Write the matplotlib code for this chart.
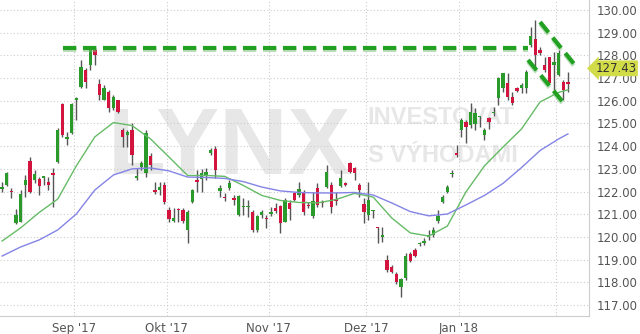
import matplotlib
matplotlib.use('Agg')
import matplotlib.pyplot as plt
import matplotlib.patheffects as pe
import numpy as np

# OHLC daily candles
opens = [122.10, 122.29, 122.02, 120.62, 120.66, 122.29, 123.35, 122.51, 122.56, 122.62,
         122.42, 122.80, 123.30, 125.86, 124.33, 124.58, 126.05, 126.61, 127.36, 127.58,
         128.24, 126.74, 126.04, 126.39, 125.68, 126.04, 124.71, 124.49, 124.71, 122.62,
         123.08, 122.82, 123.57, 122.05, 122.07, 122.29, 121.19, 120.70, 121.22, 121.19,
         120.31, 121.54, 122.51, 122.56, 122.73, 123.70, 123.88, 122.03, 121.74, 122.16,
         121.70, 120.97, 121.30, 121.30, 121.10, 120.31, 120.97, 120.81, 121.01, 121.28,
         121.37, 120.66, 121.50, 121.94, 121.85, 121.94, 121.43, 120.93, 122.16, 121.52,
         122.20, 122.29, 121.65, 122.25, 122.35, 123.26, 123.04, 122.29, 121.45, 120.97,
         121.13, 120.42, 120.02, 118.99, 118.68, 118.37, 117.80, 118.19, 119.25, 119.43,
         119.67, 119.74, 120.00, 120.09, 120.70, 121.54, 121.98, 122.76, 123.68, 124.71,
         125.07, 124.93, 124.98, 125.27, 124.49, 125.24, 125.44, 126.12, 126.56, 126.78,
         126.17, 126.56, 126.56, 126.56, 128.46, 128.72, 128.24, 127.58, 127.93, 127.58,
         127.14, 126.83, 126.83]
highs = [122.42, 122.86, 122.16, 121.23, 122.07, 122.73, 123.52, 122.95, 122.64, 122.70,
         122.64, 123.04, 124.80, 125.90, 124.63, 125.90, 126.17, 127.80, 127.45, 128.28,
         128.32, 126.96, 126.70, 126.48, 126.26, 126.04, 124.80, 124.71, 125.02, 123.04,
         123.35, 124.71, 123.70, 122.42, 122.42, 122.42, 121.32, 121.28, 121.28, 121.28,
         121.19, 122.11, 122.95, 123.00, 123.04, 123.92, 124.01, 122.29, 121.94, 122.51,
         121.85, 121.85, 121.72, 121.63, 121.19, 120.97, 121.19, 120.97, 121.32, 121.50,
         121.41, 121.72, 121.63, 121.98, 122.42, 122.07, 121.54, 121.98, 122.38, 121.63,
         123.17, 122.42, 121.98, 122.95, 122.42, 123.30, 123.08, 122.38, 121.72, 122.42,
         121.19, 120.44, 120.44, 119.21, 118.77, 118.46, 118.19, 119.30, 119.34, 119.52,
         119.78, 119.96, 120.31, 120.44, 121.19, 121.85, 122.29, 122.95, 124.05, 125.24,
         125.15, 125.90, 125.68, 125.33, 124.80, 125.29, 125.73, 127.05, 127.22, 127.22,
         126.39, 126.61, 126.78, 127.36, 129.25, 129.56, 128.37, 127.93, 127.93, 128.15,
         128.24, 126.92, 127.27]
lows = [121.98, 122.25, 121.72, 120.58, 120.64, 121.76, 121.94, 122.38, 121.85, 122.29,
        122.07, 121.32, 123.26, 124.41, 124.05, 124.54, 125.15, 126.56, 126.56, 127.36,
        127.58, 126.04, 126.04, 125.51, 125.59, 125.46, 123.97, 123.97, 123.17, 122.51,
        122.95, 122.64, 122.95, 121.89, 121.85, 121.45, 120.66, 120.66, 120.66, 120.62,
        119.74, 121.50, 121.98, 121.98, 122.51, 123.61, 122.60, 121.76, 121.59, 122.07,
        121.41, 120.93, 120.97, 120.88, 120.22, 120.22, 120.84, 120.40, 120.93, 121.06,
        120.18, 120.66, 120.75, 121.59, 121.76, 120.97, 121.28, 120.84, 121.32, 121.32,
        122.16, 121.06, 121.41, 122.20, 122.25, 122.82, 122.51, 121.76, 120.62, 120.75,
        120.84, 119.74, 119.78, 118.46, 118.41, 117.93, 117.36, 118.10, 118.90, 119.12,
        119.60, 119.65, 119.87, 120.00, 120.62, 121.50, 121.94, 122.64, 123.52, 124.41,
        124.14, 124.80, 124.71, 124.85, 124.27, 124.76, 125.33, 125.81, 126.39, 126.04,
        125.81, 126.39, 126.35, 126.35, 128.37, 127.36, 128.02, 127.27, 126.74, 126.48,
        127.10, 126.04, 126.39]
closes = [122.22, 122.82, 121.96, 120.97, 121.89, 122.51, 121.98, 122.78, 122.25, 122.66,
          122.29, 122.74, 124.71, 124.49, 124.40, 125.86, 126.10, 127.49, 126.83, 128.24,
          128.02, 126.26, 126.56, 125.68, 126.17, 125.51, 124.41, 124.63, 123.61, 122.66,
          123.26, 124.58, 123.17, 122.00, 122.20, 121.54, 120.79, 120.84, 121.17, 120.70,
          121.10, 122.07, 122.42, 122.82, 122.86, 123.83, 122.95, 122.16, 121.70, 122.38,
          121.65, 121.81, 121.34, 121.34, 120.31, 120.93, 121.10, 120.77, 121.10, 121.15,
          120.62, 121.63, 121.23, 121.63, 122.11, 121.10, 121.37, 121.59, 121.41, 121.48,
          122.86, 121.32, 121.60, 122.60, 122.31, 122.86, 122.82, 122.07, 121.10, 121.63,
          121.17, 120.38, 120.06, 118.55, 118.46, 118.02, 118.15, 119.16, 118.94, 119.16,
          119.71, 119.82, 120.09, 120.31, 120.93, 121.76, 122.20, 122.80, 123.63, 125.15,
          124.85, 125.51, 125.46, 125.31, 124.71, 125.07, 125.48, 127.00, 127.22, 126.17,
          125.90, 126.43, 126.70, 127.27, 128.85, 128.02, 128.11, 127.36, 126.78, 127.71,
          128.11, 126.48, 126.74]

# moving averages, sampled every 4 candles
ma_idx = [0, 4, 8, 12, 16, 20, 24, 28, 32, 36, 40, 44, 48, 52, 56, 60, 64, 68, 72, 76,
          80, 84, 88, 92, 96, 100, 104, 108, 112, 116, 120, 122]
ma_fast = [119.82, 120.40, 121.08, 121.67, 123.13, 124.41, 125.04, 124.91, 124.32, 123.52,
           122.71, 122.71, 122.67, 122.27, 121.83, 121.61, 121.52, 121.50, 121.65, 121.92,
           121.76, 120.84, 120.18, 120.04, 120.48, 121.98, 123.13, 123.96, 124.76, 125.95,
           126.37, 126.48]
ma_slow = [119.16, 119.56, 119.87, 120.31, 121.01, 122.07, 122.73, 123.00, 123.04, 122.91,
           122.64, 122.62, 122.58, 122.44, 122.20, 122.03, 121.96, 121.94, 121.94, 121.96,
           121.85, 121.50, 121.12, 120.93, 121.01, 121.41, 121.83, 122.36, 123.06, 123.81,
           124.32, 124.54]

# month starts (candle index) and labels
month_pos = [15.5, 35.5, 57.5, 78.5, 98.5, 119.5]
month_lbl = ["Sep '17", "Okt '17", "Nov '17", "Dez '17", "Jan '18", ""]

# drawn pattern lines
res_x = [13.1, 113.4]
res_y = [128.33, 128.33]
flag_up_x = [116.0, 123.5]
flag_up_y = [129.47, 127.58]
flag_lo_x = [113.4, 120.9]
flag_lo_y = [127.80, 125.95]
last_price = 127.43

o = np.array(opens)
c = np.array(closes)
x = np.arange(len(o))
up = c >= o
col = np.where(up, '#2a9a2a', '#d2143f')

fig = plt.figure(figsize=(6.4, 3.34), dpi=100)
ax = fig.add_axes([0.0, 0.054, 0.92, 0.946])

# watermark
wm = dict(fontweight='bold', family='Liberation Sans', color='#e7e7e7',
          va='center', ha='left', zorder=0)
ax.text(22.8, 123.85, 'LYNX', fontsize=68, **wm)
ax.text(78.8, 125.25, 'INVESTOVAT', fontsize=17, **wm)
ax.text(78.8, 123.6, 'S VÝHODAMI', fontsize=17, **wm)

ax.vlines(x, lows, highs, color='#555555', lw=1, zorder=2)
body_h = np.maximum(np.abs(c - o), 0.06)
ax.bar(x, body_h, bottom=np.minimum(o, c), width=0.72, color=col, zorder=3)

ax.plot(ma_idx, ma_fast, color='#66bb66', lw=1, zorder=4)
ax.plot(ma_idx, ma_slow, color='#8484e6', lw=1, zorder=4)

shadow = [pe.SimpleLineShadow(offset=(0, -1.5), shadow_color='#7fbf7f', alpha=0.5), pe.Normal()]
for lx, ly in [(res_x, res_y), (flag_up_x, flag_up_y), (flag_lo_x, flag_lo_y)]:
    ax.plot(lx, ly, color='#22a022', lw=3, dashes=(3.2, 1.6), zorder=5, path_effects=shadow)

ax.set_xlim(-0.45, 126.5)
ax.set_ylim(116.52, 130.44)
ax.set_yticks(np.arange(117, 131))
ax.yaxis.tick_right()
ax.yaxis.set_major_formatter(matplotlib.ticker.FormatStrFormatter('%.2f'))
ax.set_xticks(month_pos)
ax.set_xticklabels(month_lbl)
ax.tick_params(length=0, labelsize=8.5, labelcolor='#555555')
ax.tick_params(axis='y', pad=6)
ax.tick_params(axis='x', pad=4)
ax.grid(True, color='#cccccc', linestyle=(0, (1, 2)), lw=0.8)
ax.set_axisbelow(True)
for s in ['top', 'left']:
    ax.spines[s].set_visible(False)
ax.spines['right'].set_color('#cccccc')
ax.spines['bottom'].set_color('#cccccc')

ax.text(127.9, last_price, f'{last_price:.2f}', fontsize=8.5, color='#333333',
        va='center', ha='left', zorder=6, clip_on=False,
        bbox=dict(boxstyle='larrow,pad=0.12', fc='#d2dc48', ec='none'))

fig.savefig('out.png', dpi=100)
